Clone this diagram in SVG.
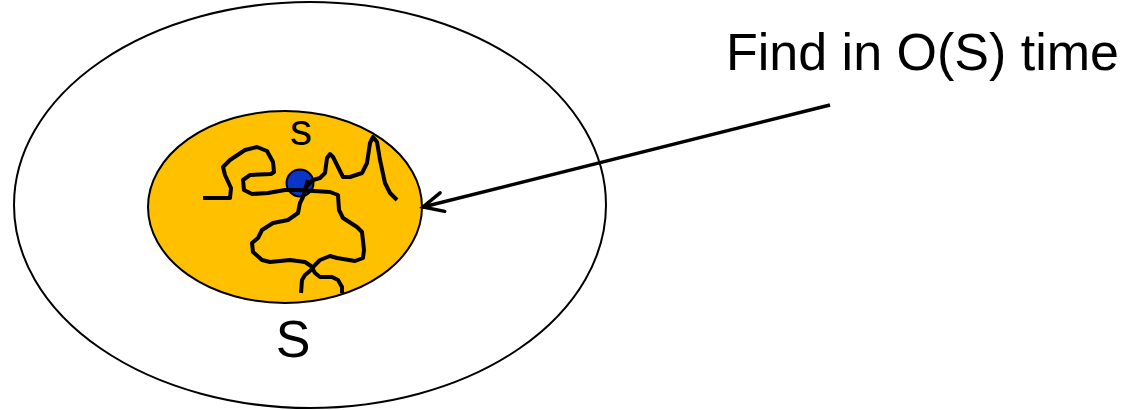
<svg xmlns="http://www.w3.org/2000/svg" width="1133" height="410" viewBox="0 0 1133 410">
<style>
.lbl{font-family:"Liberation Sans",Arial,sans-serif;fill:#000}
.walk{fill:none;stroke:#000;stroke-width:4;stroke-linejoin:round;stroke-linecap:butt}
</style>
<defs>
<marker id="open" markerUnits="userSpaceOnUse" markerWidth="30" markerHeight="30" viewBox="-25 -15 30 30" refX="0" refY="0" orient="auto">
<path d="M-20,-9.5 L0,0 L-20,9.5" fill="none" stroke="#000" stroke-width="3.5" stroke-linecap="round" stroke-linejoin="miter"/>
</marker>
</defs>
<rect width="1133" height="410" fill="#fff"/>
<g id="outer">
<ellipse cx="310" cy="205" rx="296" ry="203" fill="#fff" stroke="#000" stroke-width="2"/>
<text class="lbl" x="293" y="357" font-size="52" text-anchor="middle">S</text>
</g>
<g id="inner">
<ellipse cx="285" cy="207" rx="137" ry="96" fill="#FFC000" stroke="#000" stroke-width="2"/>
<text class="lbl" x="301" y="145" font-size="44" text-anchor="middle">s</text>
<circle cx="300" cy="183" r="13.5" fill="#0A35C8" stroke="#000" stroke-width="2"/>
<path class="walk" d="M203,198 L230,198 L231,188 L225,175 L223,167 L230,160 L245,150 L257,147 L267,151 L273,162 L274,172 L271,174 L250,175 L243,180 L244,190 L252,194 L268,193 L285,190 L298,190 L330,192 L338,195 L339,210 L343,218 L357,227 L362,232 L364,250 L363,258 L355,261 L337,258 L330,256 L320,260 L315,265 L311,270 L305,275 L302,280 L301,293"/>
<path class="walk" d="M308,180 L303,197 L300,203 L298,213 L288,220 L273,223 L262,230 L258,238 L252,243 L253,252 L262,260 L270,262 L290,260 L305,262 L311,266 L315,273 L320,277 L332,277 L338,280 L342,287 L342,293"/>
<path class="walk" d="M305,188 L313,180 L320,178 L325,173 L327,158 L330,154 L333,157 L338,167 L343,177 L350,177 L362,173 L367,163 L370,143 L373,137 L377,142 L380,160 L385,183 L390,193 L397,200"/>
</g>
<g id="note">
<text class="lbl" x="726" y="70" font-size="52">Find in O(S) time</text>
</g>
<g id="connectors">
<line x1="830" y1="105" x2="423" y2="207" stroke="#000" stroke-width="3.5" marker-end="url(#open)"/>
</g>
</svg>
